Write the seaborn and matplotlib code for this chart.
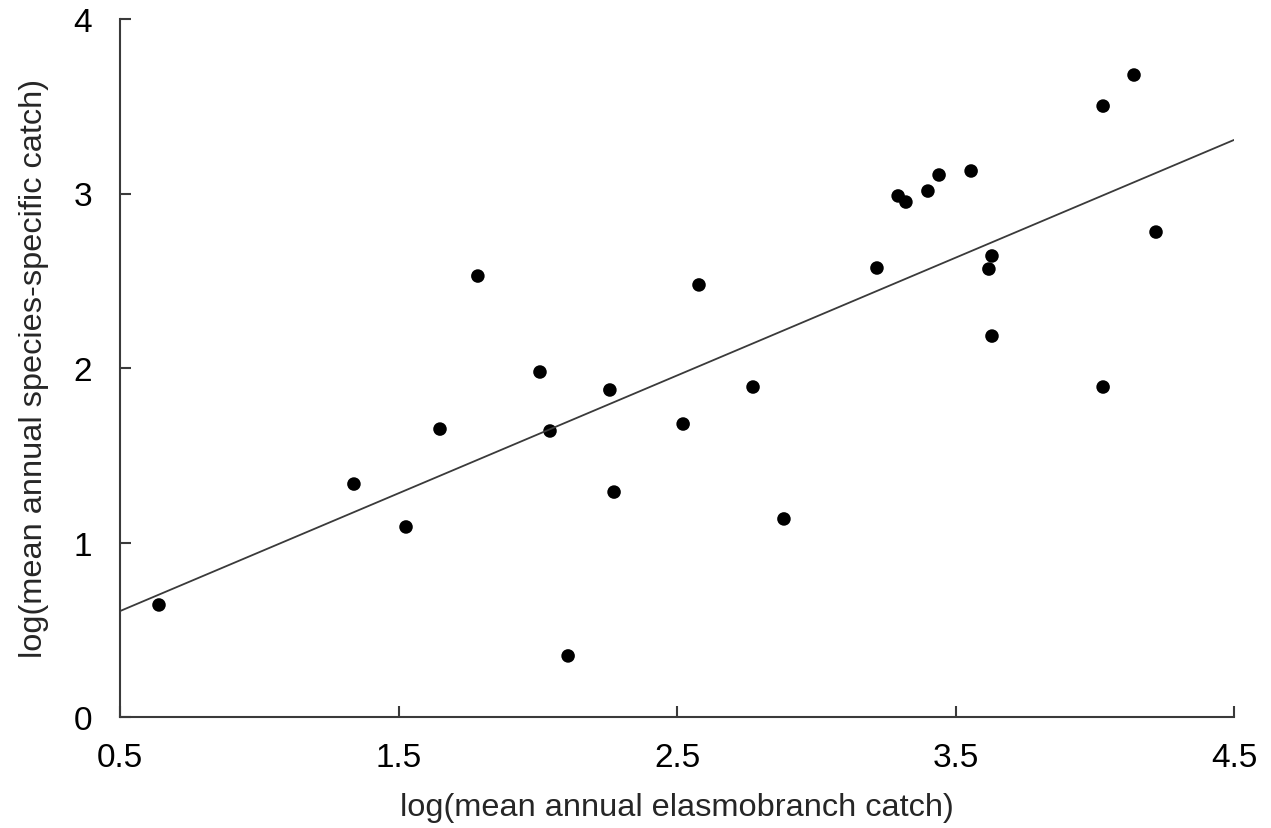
import matplotlib
matplotlib.use("Agg")
import matplotlib.pyplot as plt
import seaborn as sns
import pandas as pd

elasmo_catch = [0.64, 1.34, 1.527, 1.649, 1.785, 2.008, 2.044, 2.109, 2.259, 2.274,
                2.522, 2.579, 2.773, 2.884, 3.218, 3.294, 3.322, 3.401, 3.441, 3.556,
                3.620, 3.631, 3.631, 4.030, 4.030, 4.141, 4.220]
species_catch = [0.642, 1.335, 1.089, 1.650, 2.527, 1.977, 1.639, 0.350, 1.874, 1.289,
                 1.679, 2.476, 1.891, 1.135, 2.573, 2.986, 2.951, 3.014, 3.106, 3.129,
                 2.567, 2.642, 2.183, 3.501, 1.891, 3.679, 2.779]
fit_x = [0.5, 4.5]
fit_y = [0.607, 3.307]
x_ticks = [0.5, 1.5, 2.5, 3.5, 4.5]
y_ticks = [0, 1, 2, 3, 4]

sns.set_style("white")
plt.rcParams["font.family"] = ["Liberation Sans", "DejaVu Sans"]

df = pd.DataFrame({"x": elasmo_catch, "y": species_catch})
fig = plt.figure(figsize=(12.71, 8.29), dpi=100)
ax = fig.add_axes([120/1271, 1 - 718/829, (1234-120)/1271, (718-20)/829])

sns.lineplot(x=fit_x, y=fit_y, ax=ax, color="#3a3a3a", linewidth=1.3)
sns.scatterplot(data=df, x="x", y="y", ax=ax, color="black", s=95, edgecolor="none")

ax.set_xlim(0.5, 4.5)
ax.set_ylim(0, 4)
ax.set_xticks(x_ticks)
ax.set_xticklabels(["0.5", "1.5", "2.5", "3.5", "4.5"])
ax.set_yticks(y_ticks)
ax.set_yticklabels([str(v) for v in y_ticks])
for s in ["top", "right"]:
    ax.spines[s].set_visible(False)
for s in ["left", "bottom"]:
    ax.spines[s].set_color("#3a3a3a")
    ax.spines[s].set_linewidth(1.5)
ax.tick_params(bottom=True, left=True, direction="in", length=8, width=1.5,
               color="#3a3a3a", labelsize=24, labelcolor="black")
ax.tick_params(axis="x", pad=18)
ax.tick_params(axis="y", pad=20)
ax.set_xlabel("log(mean annual elasmobranch catch)", fontsize=23.4, labelpad=14)
ax.set_ylabel("log(mean annual species-specific catch)", fontsize=23.4, labelpad=18)
ax.grid(False)

fig.savefig("out.png", dpi=100)
